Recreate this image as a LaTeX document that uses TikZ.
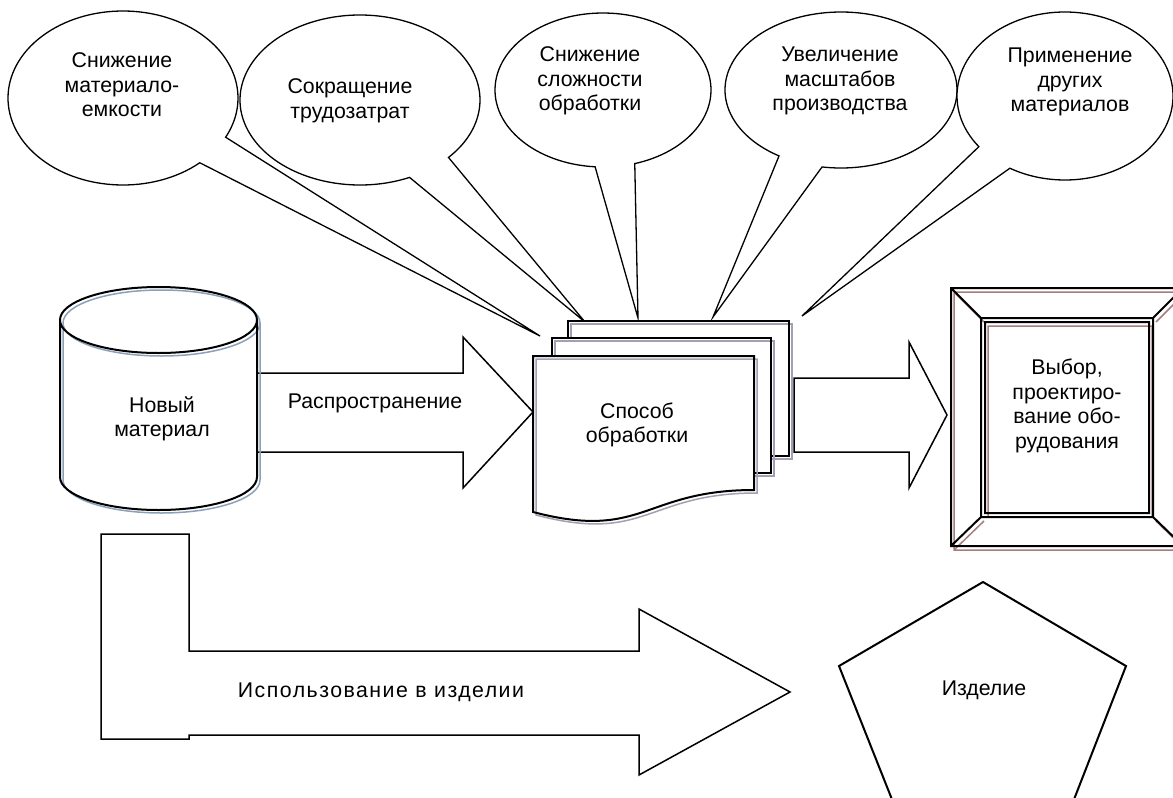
\documentclass[tikz,border=0pt]{standalone}
\usepackage{fontspec}
\setmainfont{Liberation Sans}
\newfontfamily\spacedfont[LetterSpace=7]{Liberation Sans}
\definecolor{cylsh}{RGB}{140,160,185}
\definecolor{docsh}{RGB}{165,158,180}
\definecolor{frsh}{RGB}{165,125,125}
\newcommand\calloutshape[7]{%
  \draw[callout] (#1,#2) ++(#5:#3pt and #4pt)
    arc[start angle=#5, end angle=#6, x radius=#3pt, y radius=#4pt]
    -- (#7) -- cycle;}
\newcommand\cylpath{(60,320) -- (60,477) arc[start angle=180,end angle=0,x radius=98.5pt,y radius=33pt] -- (257,320) arc[start angle=0,end angle=-180,x radius=98.5pt,y radius=33pt] -- cycle (60,320) arc[start angle=180,end angle=0,x radius=98.5pt,y radius=33pt]}
\newcommand\backdoc{(568,321) rectangle (789,456)}
\newcommand\middoc{(552,338) rectangle (771,473)}
\newcommand\frontdoc{(533,356) -- (754,356) -- (754,490) .. controls (643.5,490) and (643.5,541) .. (533,512) -- cycle}
\begin{document}
\begin{tikzpicture}[x=1pt,y=1pt,yscale=-1,
  callout/.style={draw, line width=1.3pt, fill=white, line join=miter},
  blockarrow/.style={draw, line width=1.5pt, fill=white, line join=miter},
  txt/.style={align=center, font=\fontsize{21.3}{24.5}\selectfont, inner sep=0pt},
  docline/.style={line width=2pt},
  docshadow/.style={draw=docsh, line width=1.5pt, shift={(3,3)}}]
\clip (0,0) rectangle (1173,798);
\fill[white] (0,0) rectangle (1173,798);

% callouts
\calloutshape{123}{98}{115}{87}{48.1}{386.8}{540,336}
\calloutshape{360}{100}{120}{85}{65.6}{402.5}{585,322}
\calloutshape{603}{90}{108}{77}{94.2}{432.9}{638,318}
\calloutshape{841}{90}{116}{78}{122.3}{459.4}{713,317}
\calloutshape{1065}{96}{108}{84}{142.9}{480.7}{802,316}
\node[txt] (c1) at (122,85) {Снижение\\материало-\\емкости};
\node[txt] (c2) at (350,101) {Сокращение\\трудозатрат};
\node[txt] (c3) at (590,81) {Снижение\\сложности\\обработки};
\node[txt] (c4) at (840,81) {Увеличение\\масштабов\\производства};
\node[txt] (c5) at (1070,82) {Применение\\других\\материалов};

% arrow 1
\draw[blockarrow] (240,373) -- (463,373) -- (463,337) -- (533,412) -- (463,488) -- (463,452) -- (240,452) -- cycle;
\node[txt] (a1) at (375,403) {Распространение};

% cylinder
\fill[white] \cylpath;
\draw[cylsh, line width=1.5pt, shift={(3,3)}] \cylpath;
\draw[line width=2pt] \cylpath;
\node[txt] (nm) at (162,419) {Новый\\материал};

% documents
\fill[white] \backdoc; \draw[docshadow] \backdoc; \draw[docline] \backdoc;
\fill[white] \middoc; \draw[docshadow] \middoc; \draw[docline] \middoc;
\fill[white] \frontdoc; \draw[docshadow] \frontdoc; \draw[docline] \frontdoc;
\node[txt] (doc) at (637,425) {Способ\\обработки};

% arrow 2
\draw[blockarrow] (794,378) -- (909,378) -- (909,342) -- (947,415) -- (909,488) -- (909,452) -- (794,452) -- cycle;

% bevel frame
\fill[white] (951,288) rectangle (1183,546);
\draw[frsh, line width=1.5pt, shift={(3,4)}] (951,288) rectangle (1183,546)
  (985,322) rectangle (1149,513)
  (951,288) -- (981,318) (951,546) -- (981,517)
  (1183,288) -- (1153,318) (1183,546) -- (1153,517);
\draw[line width=2pt] (951,288) rectangle (1183,546)
  (981,318) rectangle (1153,517)
  (985,322) rectangle (1149,513)
  (951,288) -- (981,318) (951,546) -- (981,517)
  (1183,288) -- (1153,318) (1183,546) -- (1153,517);
\node[txt] (eq) at (1067,406) {Выбор,\\проектиро-\\вание обо-\\рудования};

% L arrow
\draw[blockarrow] (101,534) -- (189,534) -- (189,651) -- (639,651) -- (639,609) -- (790,692) -- (639,775) -- (639,735) -- (189,735) -- (189,739) -- (101,739) -- cycle;
\node[inner sep=0pt, font=\spacedfont\fontsize{21.3}{24.5}\selectfont] (use) at (381,692) {Использование в изделии};

% pentagon
\draw[line width=2pt, fill=white, line join=miter] (983,582) -- (1126,666) -- (1073,802) -- (893,802) -- (839,666) -- cycle;
\node[txt] (prod) at (984,690) {Изделие};
\end{tikzpicture}
\end{document}
